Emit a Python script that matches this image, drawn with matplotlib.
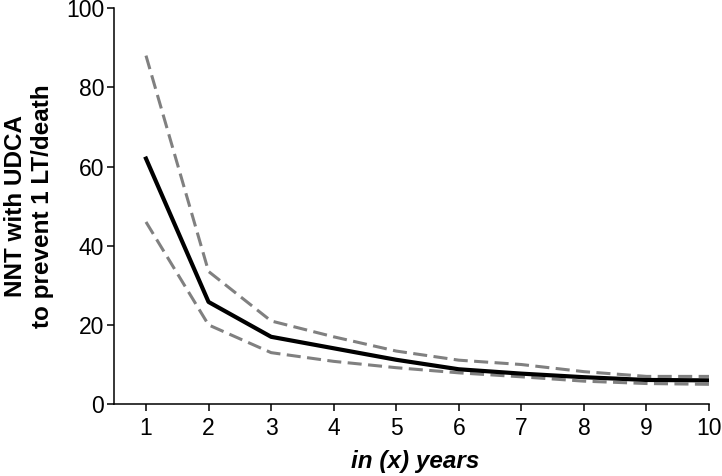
import matplotlib
matplotlib.use("Agg")
import matplotlib.pyplot as plt

years = [1, 2, 3, 4, 5, 6, 7, 8, 9, 10]
nnt = [62, 25.8, 17, 14.1, 11.2, 8.8, 7.7, 6.8, 6.1, 6.0]
nnt_upper = [88, 33.5, 21, 17, 13.4, 11.1, 10, 8.2, 7, 7]
nnt_lower = [46, 20, 13, 10.8, 9.2, 7.9, 6.9, 5.8, 5.2, 5.0]

plt.rcParams['font.family'] = ['Liberation Sans', 'DejaVu Sans']

fig = plt.figure(figsize=(7.22, 4.76), dpi=100)
ax = fig.add_axes([0.158, 0.151, 0.824, 0.832])

ax.plot(years, nnt_upper, color='#808080', linewidth=2.2, linestyle=(0, (4.6, 2.1)))
ax.plot(years, nnt_lower, color='#808080', linewidth=2.2, linestyle=(0, (4.6, 2.1)))
ax.plot(years, nnt, color='black', linewidth=3)

ax.set_xlim(0.49, 10)
ax.set_ylim(0, 100)
ax.set_xticks(years)
ax.set_yticks([0, 20, 40, 60, 80, 100])
ax.spines['top'].set_visible(False)
ax.spines['right'].set_visible(False)
for s in ['left', 'bottom']:
    ax.spines[s].set_linewidth(1.1)
ax.tick_params(direction='out', length=5, width=1.1, labelsize=16.5)
ax.tick_params(axis='x', pad=4)
ax.tick_params(axis='y', pad=2)

ax.set_xlabel("in (x) years", fontsize=17.5, fontweight='bold', fontstyle='italic', labelpad=5)
ax.xaxis.set_label_coords(0.506, -0.115)
ax.set_ylabel("NNT with UDCA\nto prevent 1 LT/death", fontsize=17.5, fontweight='bold', labelpad=9)

fig.savefig("out.png", dpi=100)
